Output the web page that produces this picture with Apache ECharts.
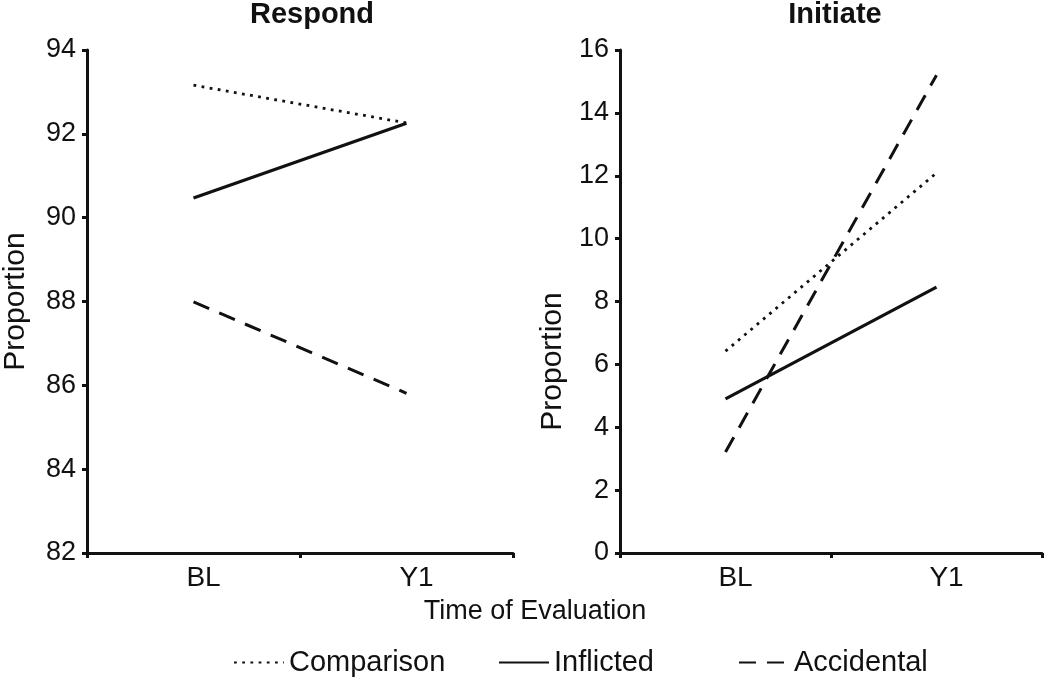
<!DOCTYPE html>
<html>
<head>
<meta charset="utf-8">
<script src="https://cdn.jsdelivr.net/npm/echarts@6/dist/echarts.min.js"></script>
<style>html,body{margin:0;padding:0;background:#fff}#c{width:1050px;height:679px}</style>
</head>
<body>
<div id="c"></div>
<script>
const categories = ['BL', 'Y1'];
const seriesNames = ['Comparison', 'Inflicted', 'Accidental'];
const respondComparison = [93.16, 92.26];
const respondInflicted = [90.47, 92.25];
const respondAccidental = [87.99, 85.81];
const initiateComparison = [6.42, 12.09];
const initiateInflicted = [4.9, 8.46];
const initiateAccidental = [3.21, 15.2];
const panelTitles = ['Respond', 'Initiate'];
const xAxisTitle = 'Time of Evaluation';
const yAxisTitle = 'Proportion';

const FONT = '"Liberation Sans", Arial, Helvetica, sans-serif';
const INK = '#111';
const styles = {
  Comparison: { type: [2.8, 5.4], width: 2.8 },
  Inflicted: { type: 'solid', width: 3.2 },
  Accidental: { type: [17, 11], width: 3 }
};

function xAx(gridIndex) {
  return {
    type: 'category', gridIndex, data: categories, boundaryGap: true,
    axisLine: { lineStyle: { color: INK, width: 3 } },
    axisTick: { show: true, length: 5, lineStyle: { color: INK, width: 3 } },
    axisLabel: { color: INK, fontSize: 28, fontFamily: FONT, margin: 11, padding: [0, 0, 0, 20] }
  };
}
function yAx(gridIndex, min, max, padding) {
  return {
    type: 'value', gridIndex, min, max, interval: 2,
    name: yAxisTitle, nameLocation: 'middle', nameRotate: 90, nameGap: padding.gap,
    nameTextStyle: { color: INK, fontSize: 30, fontFamily: FONT, padding: padding.pad },
    axisLine: { show: true, lineStyle: { color: INK, width: 3 } },
    axisTick: { show: true, length: 5, lineStyle: { color: INK, width: 3 } },
    axisLabel: { color: INK, fontSize: 27, fontFamily: FONT, margin: 11 },
    splitLine: { show: false }
  };
}
function mk(name, data, idx) {
  return {
    name, type: 'line', data, xAxisIndex: idx, yAxisIndex: idx,
    symbol: 'none', color: INK,
    lineStyle: { color: INK, width: styles[name].width, type: styles[name].type }
  };
}
const legendPos = [228, 493, 733];

const option = {
  animation: false,
  backgroundColor: '#fff',
  title: [
    { text: panelTitles[0], left: 307, top: -5, textAlign: 'center',
      textStyle: { fontSize: 29, fontWeight: 'bold', color: INK, fontFamily: FONT } },
    { text: panelTitles[1], left: 830, top: -5, textAlign: 'center',
      textStyle: { fontSize: 29, fontWeight: 'bold', color: INK, fontFamily: FONT } },
    { text: xAxisTitle, left: 530, top: 593, textAlign: 'center',
      textStyle: { fontSize: 27, fontWeight: 'normal', color: INK, fontFamily: FONT } }
  ],
  legend: seriesNames.map((n, i) => ({
    data: [n], left: legendPos[i], top: 643, itemWidth: 50, itemHeight: 14, itemGap: 8,
    itemStyle: { color: 'transparent', borderWidth: 0, opacity: 0 },
    textStyle: { fontSize: 29, color: INK, fontFamily: FONT }
  })),
  grid: [
    { left: 85, right: 537, top: 50, bottom: 126 },
    { left: 620, right: 8, top: 50, bottom: 126 }
  ],
  xAxis: [xAx(0), xAx(1)],
  yAxis: [yAx(0, 82, 94, { gap: 56, pad: 0 }), yAx(1, 0, 16, { gap: 52, pad: [0, 120, 0, 0] })],
  series: [
    mk('Comparison', respondComparison, 0),
    mk('Inflicted', respondInflicted, 0),
    mk('Accidental', respondAccidental, 0),
    mk('Comparison', initiateComparison, 1),
    mk('Inflicted', initiateInflicted, 1),
    mk('Accidental', initiateAccidental, 1)
  ]
};
const chart = echarts.init(document.getElementById('c'), null, { renderer: 'canvas' });
chart.setOption(option);
</script>
</body>
</html>
